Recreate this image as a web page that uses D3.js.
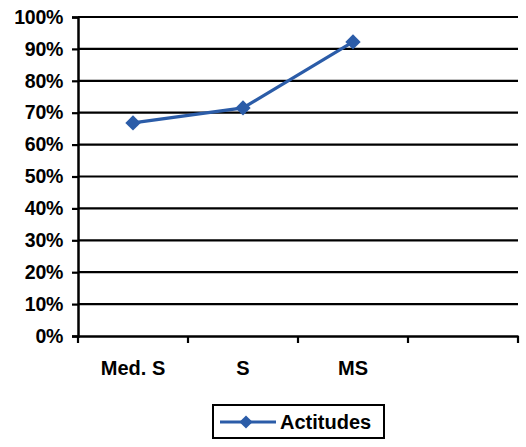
<!DOCTYPE html>
<html><head><meta charset="utf-8">
<script src="https://cdn.jsdelivr.net/npm/d3@7"></script>
<style>body{margin:0;background:#fff}svg{display:block}text{font-family:"Liberation Sans",Arial,sans-serif;font-weight:bold}</style>
</head><body>
<script>
const categories = ["Med. S", "S", "MS", ""];
const seriesName = "Actitudes";
const values = [0.668, 0.715, 0.922];
const yTicks = [0,0.1,0.2,0.3,0.4,0.5,0.6,0.7,0.8,0.9,1.0];

const W=526,H=447;
const svg=d3.select("body").append("svg").attr("width",W).attr("height",H);
const x=d3.scaleBand().domain(categories.map((c,i)=>i)).range([78,518]);
const y=d3.scaleLinear().domain([0,1]).range([336,17]);
const color="#2b5ca8";
const font="Liberation Sans, Arial, sans-serif";

// gridlines
svg.append("g").selectAll("line").data(yTicks.slice(1)).join("line")
 .attr("x1",78).attr("x2",518).attr("y1",d=>y(d)).attr("y2",d=>y(d))
 .attr("stroke","#000").attr("stroke-width",2.2);

// y axis
const ya=svg.append("g").attr("transform","translate(78,0)")
 .call(d3.axisLeft(y).tickValues(yTicks).tickFormat(d3.format(".0%")).tickSize(6).tickPadding(9));
ya.select(".domain").attr("stroke","#000").attr("stroke-width",2.5);
ya.selectAll(".tick line").attr("stroke","#000").attr("stroke-width",2.2);
ya.selectAll("text").attr("font-size",19.5).attr("fill","#000").style("font-family",font).style("font-weight","bold").attr("letter-spacing",-0.3);

// x axis
const xa=svg.append("g").attr("transform","translate(0,336)")
 .call(d3.axisBottom(x).tickSize(0).tickFormat(i=>categories[i]).tickPadding(25));
xa.select(".domain").attr("stroke","#000").attr("stroke-width",2.5);
xa.selectAll("text").attr("font-size",20).attr("fill","#000").style("font-family",font).style("font-weight","bold");
// boundary ticks
const bounds=categories.map((c,i)=>x(i)).concat([x.range()[1]]);
svg.append("g").selectAll("line").data(bounds).join("line")
 .attr("x1",d=>d).attr("x2",d=>d).attr("y1",336).attr("y2",343)
 .attr("stroke","#000").attr("stroke-width",2.2);

// line
const cx=i=>x(i)+x.bandwidth()/2;
svg.append("path").datum(values)
 .attr("d",d3.line().x((d,i)=>cx(i)).y(d=>y(d)))
 .attr("fill","none").attr("stroke",color).attr("stroke-width",3.2);
const diamond=d3.symbol().type(d3.symbolDiamond2).size(150);
svg.append("g").selectAll("path").data(values).join("path")
 .attr("d",diamond).attr("transform",(d,i)=>`translate(${cx(i)},${y(d)})`)
 .attr("fill",color);

// legend
const lg=svg.append("g");
lg.append("rect").attr("x",213).attr("y",405).attr("width",171).attr("height",33)
 .attr("fill","#fff").attr("stroke","#000").attr("stroke-width",2);
lg.append("line").attr("x1",220).attr("x2",276).attr("y1",422).attr("y2",422).attr("stroke",color).attr("stroke-width",3);
lg.append("path").attr("d",d3.symbol().type(d3.symbolDiamond2).size(110)).attr("transform","translate(246,422)").attr("fill",color);
lg.append("text").attr("x",280).attr("y",429).attr("font-size",20).attr("fill","#000").text(seriesName);
</script>
</body></html>
